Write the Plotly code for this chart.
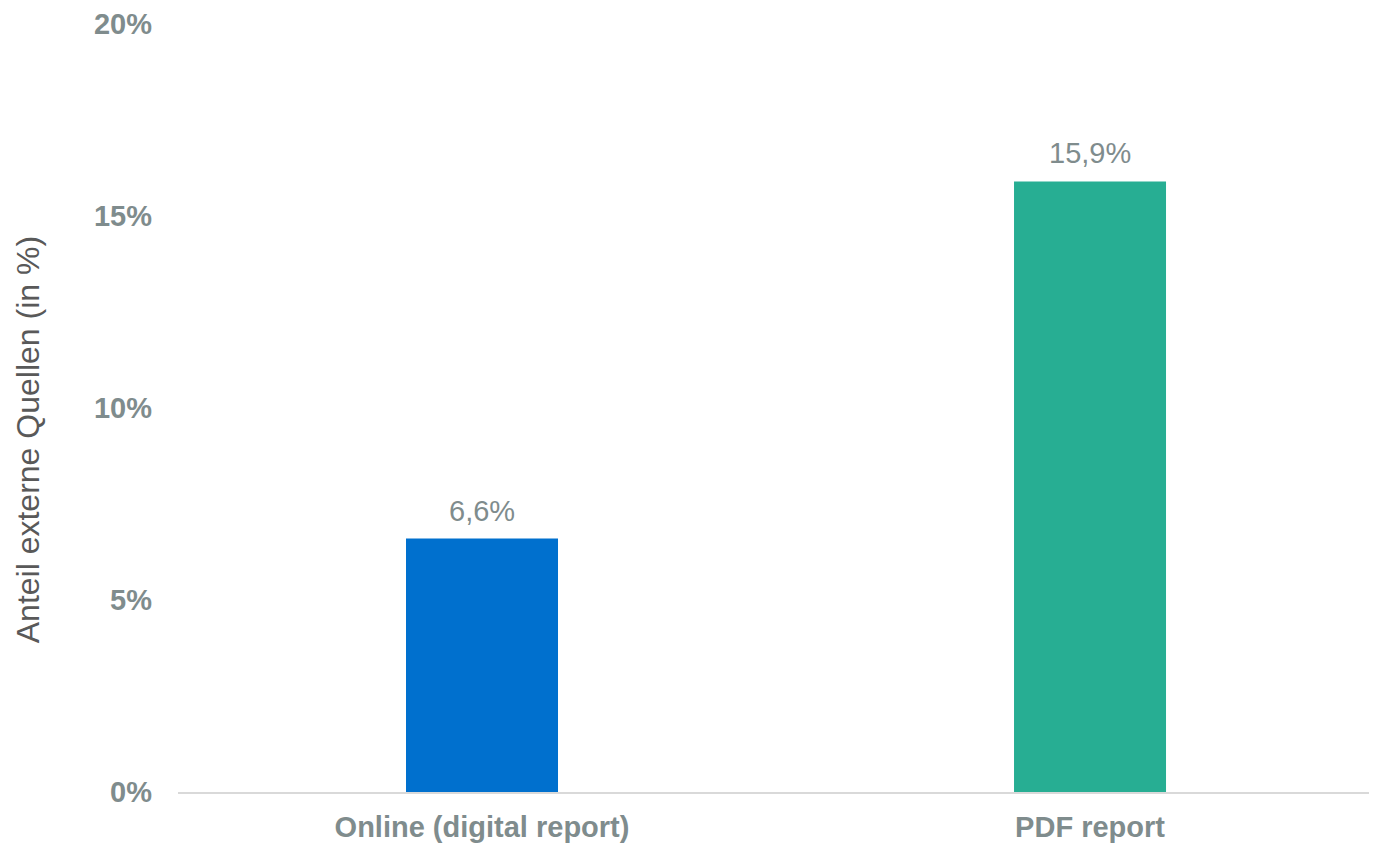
import plotly.graph_objects as go

categories = ["Online (digital report)", "PDF report"]
values = [6.6, 15.9]
bar_colors = ["#0070CE", "#27AE93"]
labels = ["6,6%", "15,9%"]
y_ticks = [0, 5, 10, 15, 20]
y_ticktext = ["0%", "5%", "10%", "15%", "20%"]

gray = "#7F8C8D"
font_family = "Liberation Sans, Arial"

fig = go.Figure(go.Bar(
    x=[0, 1], y=values,
    marker=dict(color=bar_colors, line=dict(width=0)),
    width=0.25,
))

# value labels above the bars
for i, (v, t) in enumerate(zip(values, labels)):
    fig.add_annotation(x=i, y=v, text=t, showarrow=False,
                       yanchor="bottom", yshift=10,
                       font=dict(family=font_family, size=29, color=gray))

# y axis title (placed as annotation so it can sit a bit below centre)
fig.add_annotation(text="Anteil externe Quellen (in %)", textangle=-90,
                   xref="paper", yref="paper", x=0, y=0.458,
                   xanchor="center", yanchor="middle", xshift=-150,
                   showarrow=False,
                   font=dict(family=font_family, size=32, color="#595959"))

fig.update_layout(
    width=1369, height=835,
    margin=dict(l=170, r=0, t=16, b=51),
    plot_bgcolor="white", paper_bgcolor="white",
    showlegend=False,
    font=dict(family=font_family),
)
fig.update_xaxes(
    range=[-0.5, 1.472],
    tickvals=[0, 1], ticktext=categories,
    tickfont=dict(family=font_family, size=29, color=gray, weight="bold"),
    showline=True, linecolor="#D9D9D9", linewidth=2,
    showgrid=False, zeroline=False, ticks="", ticklabelstandoff=8,
)
fig.update_yaxes(
    range=[0, 20], tickvals=y_ticks, ticktext=y_ticktext,
    tickfont=dict(family=font_family, size=29, color=gray, weight="bold"),
    showgrid=False, zeroline=False, showline=False, ticks="", ticklabelstandoff=25,
)

fig.write_html("out.html")
